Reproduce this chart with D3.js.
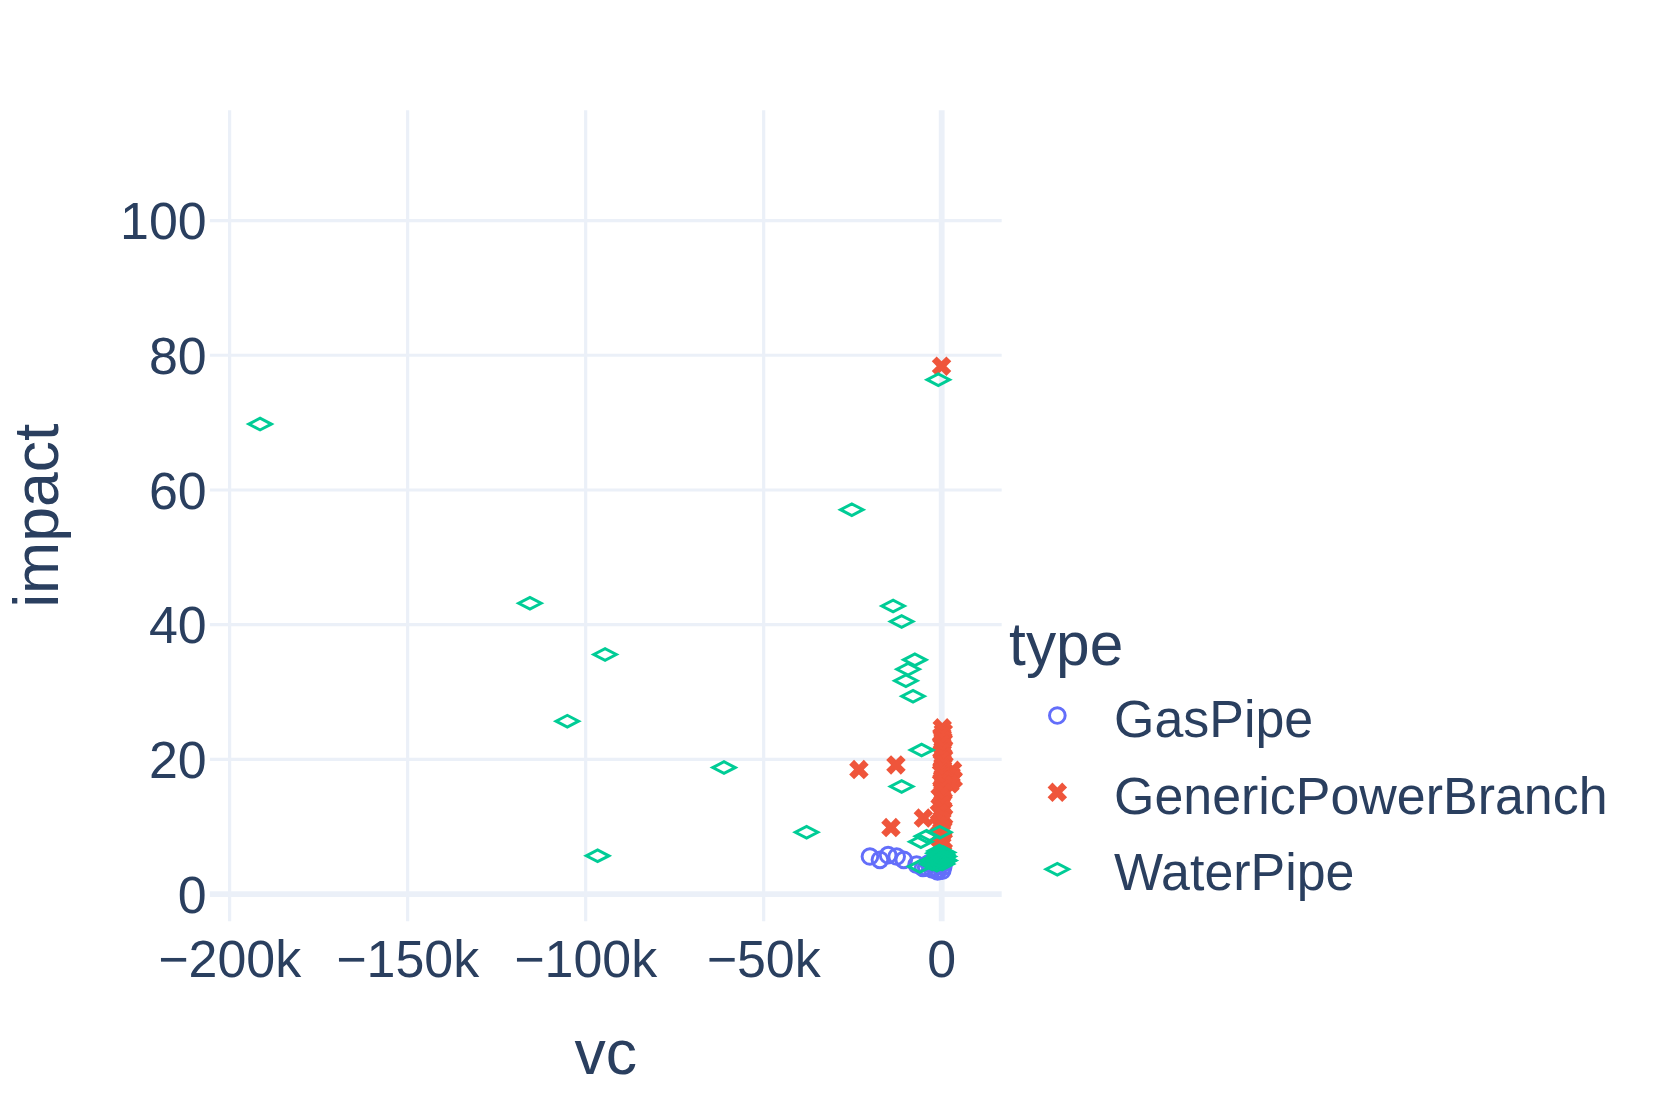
<!DOCTYPE html>
<html>
<head>
<meta charset="utf-8">
<script src="https://cdn.jsdelivr.net/npm/d3@7"></script>
<style>
body { margin: 0; background: #fff; }
</style>
</head>
<body>
<div id="myVis"></div>
<script>
// data: [vc, impact]
var categories = ["GasPipe", "GenericPowerBranch", "WaterPipe"];
var colors = ["#636efa", "#EF553B", "#00cc96"];
var xTicks = [-200000, -150000, -100000, -50000, 0];
var yTicks = [0, 20, 40, 60, 80, 100];

var gasPipe = [
  [-20000, 5.5], [-17200, 5.0], [-14900, 5.7], [-12500, 5.5], [-10500, 5.0],
  [-6900, 4.3], [-5100, 3.8], [-4200, 3.9], [-3500, 4.5], [-2500, 3.6],
  [-2000, 4.8], [-1800, 3.9], [-1300, 3.5], [-1000, 3.3], [-500, 4.2],
  [0, 5.0], [300, 3.4], [600, 4.0], [800, 4.6]
];

var powerBranch = [
  [-23100, 18.4], [-12700, 19.1], [-14100, 9.8], [-5000, 11.2], [100, 78.3],
  [300, 24.6], [600, 24.0], [200, 23.4], [500, 22.8], [100, 22.2], [700, 21.6],
  [300, 21.0], [500, 20.4], [200, 19.8], [800, 19.2], [400, 18.6], [3200, 18.3],
  [100, 18.0], [2800, 17.6], [600, 17.4], [3400, 17.0], [300, 16.8], [2500, 16.3],
  [700, 16.2], [200, 15.6], [500, 15.0], [-300, 14.4], [600, 13.8], [100, 13.2],
  [400, 12.6], [-500, 12.0], [700, 11.4], [200, 10.8], [-600, 10.2], [500, 9.6],
  [100, 9.0], [-400, 8.4], [600, 7.8], [200, 7.2], [-200, 6.6], [400, 6.0]
];

var waterPipe = [
  [-191300, 69.7], [-115500, 43.1], [-94400, 35.5], [-105000, 25.6], [-96500, 5.6],
  [-61000, 18.7], [-37800, 9.1], [-25100, 57.0], [-800, 76.3], [-13500, 42.7],
  [-11100, 40.4], [-7400, 34.7], [-9300, 33.3], [-9900, 31.6], [-7900, 29.3],
  [-5500, 21.3], [-11100, 15.9], [-5700, 7.7], [-4100, 8.5], [-400, 9.1],
  [-6000, 4.0], [-500, 6.3], [200, 5.8], [-1000, 5.2], [500, 4.8], [-200, 4.5],
  [-1500, 4.6], [800, 5.5], [-800, 6.0], [300, 4.4], [-2000, 5.0], [600, 6.1],
  [-1200, 4.2], [0, 5.3], [-300, 5.7], [1000, 4.9], [-2500, 4.4], [400, 5.1],
  [-600, 4.9]
];

var series = [gasPipe, powerBranch, waterPipe];

var width = 1661;
var height = 1107;
var vbW = 1567, vbH = 1044.3;

var plotLeft = 198, plotRight = 945, plotTop = 104, plotBottom = 869;
var font = "'Liberation Sans', Arial, sans-serif";
var textColor = "#2a3f5f";
var gridColor = "#ebf0f8";

var canvas = d3.select("#myVis")
    .append("svg")
    .attr("width", width)
    .attr("height", height)
    .attr("viewBox", "0 0 " + vbW + " " + vbH)
    .style("background-color", "#fff");

var x = d3.scaleLinear().domain([-205400, 17000]).range([plotLeft, plotRight]);
var y = d3.scaleLinear().domain([-4.1, 116.3]).range([plotBottom, plotTop]);

// grid + tick labels from the axes
var xAxis = canvas.append("g")
    .attr("transform", "translate(0," + plotBottom + ")")
    .call(d3.axisBottom(x).tickValues(xTicks).tickFormat(d3.format("~s"))
        .tickSize(-(plotBottom - plotTop)).tickPadding(18));

var yAxis = canvas.append("g")
    .attr("transform", "translate(" + plotLeft + ",0)")
    .call(d3.axisLeft(y).tickValues(yTicks)
        .tickSize(-(plotRight - plotLeft)).tickPadding(3));

[xAxis, yAxis].forEach(function(ax) {
    ax.select(".domain").remove();
    ax.selectAll(".tick line")
        .attr("stroke", gridColor)
        .attr("stroke-width", function(d) { return d === 0 ? 5.5 : 3; });
    ax.selectAll(".tick text")
        .attr("fill", textColor)
        .style("font-family", font)
        .style("font-size", "49px");
});
yAxis.selectAll(".tick text").attr("dy", "0.36em");
// zero lines drawn on top of the other grid lines
xAxis.selectAll(".tick").filter(function(d) { return d === 0; }).raise();
yAxis.selectAll(".tick").filter(function(d) { return d === 0; }).raise();

// axis titles
canvas.append("text")
    .attr("x", (plotLeft + plotRight) / 2)
    .attr("y", 1013)
    .attr("text-anchor", "middle")
    .attr("fill", textColor)
    .style("font-family", font)
    .style("font-size", "59px")
    .text("vc");

canvas.append("text")
    .attr("transform", "translate(55," + (plotTop + plotBottom) / 2 + ") rotate(-90)")
    .attr("text-anchor", "middle")
    .attr("fill", textColor)
    .style("font-family", font)
    .style("font-size", "59px")
    .text("impact");

// marker shapes (plotly style)
function xPath(rx) {
    var ne = "l" + rx + "," + rx, se = "l" + rx + "," + (-rx),
        sw = "l" + (-rx) + "," + (-rx), nw = "l" + (-rx) + "," + rx;
    return "M0," + rx + ne + se + sw + se + sw + nw + sw + nw + ne + nw + ne + "Z";
}
function diamondPath(rt, rs) {
    return "M" + rt + ",0L0," + rs + "L" + (-rt) + ",0L0," + (-rs) + "Z";
}

function drawMarker(g, index, px, py) {
    if (index === 0) {
        g.append("circle")
            .attr("cx", px).attr("cy", py).attr("r", 7.4)
            .attr("fill", "none")
            .attr("stroke", colors[0])
            .attr("stroke-width", 2.8);
    } else if (index === 1) {
        g.append("path")
            .attr("d", xPath(4.6))
            .attr("transform", "translate(" + px + "," + py + ")")
            .attr("fill", colors[1]);
    } else {
        g.append("path")
            .attr("d", diamondPath(10.6, 5.5))
            .attr("transform", "translate(" + px + "," + py + ")")
            .attr("fill", "none")
            .attr("stroke", colors[2])
            .attr("stroke-width", 2.8);
    }
}

series.forEach(function(points, index) {
    var g = canvas.append("g");
    points.forEach(function(p) {
        drawMarker(g, index, x(p[0]), y(p[1]));
    });
});

// legend
var legend = canvas.append("g");
legend.append("text")
    .attr("x", 952)
    .attr("y", 627)
    .attr("fill", textColor)
    .style("font-family", font)
    .style("font-size", "57px")
    .text("type");

categories.forEach(function(name, index) {
    var ly = 675 + index * 72.5;
    drawMarker(legend, index, 997.5, ly);
    legend.append("text")
        .attr("x", 1051)
        .attr("y", ly + 20)
        .attr("fill", textColor)
        .style("font-family", font)
        .style("font-size", "49px")
        .text(name);
});
</script>
</body>
</html>
